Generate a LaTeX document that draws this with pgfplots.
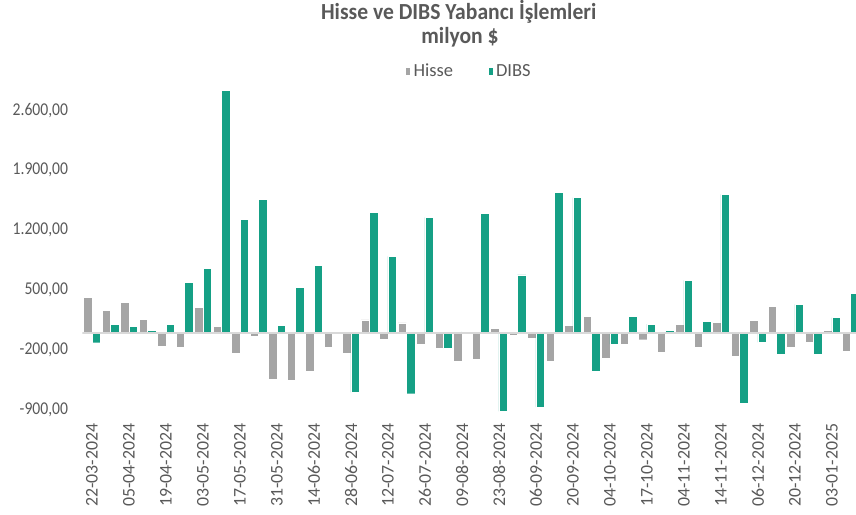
\documentclass[border=0pt]{standalone}
\usepackage{pgfplots}
\pgfplotsset{compat=1.18}
\usepackage{fontspec}
\setmainfont{Carlito}
\newfontfamily\tickfont{Carlito}[FakeStretch=0.87]
\newfontfamily\titlefont{Carlito}[FakeStretch=0.94]
\definecolor{txt}{HTML}{595959}
\definecolor{hisse}{HTML}{A5A5A5}
\definecolor{dibs}{HTML}{15A085}
\definecolor{zeroline}{HTML}{D9D9D9}
\begin{document}
\begin{tikzpicture}
\begin{axis}[
  at={(0,0)}, anchor=south west,
  scale only axis,
  width=773.6bp, height=323.2bp,
  xmin=-0.52, xmax=41.3,
  ymin=-920, ymax=2850,
  enlargelimits=false,
  axis line style={draw=none},
  major tick length=0pt,
  xtick={0,2,...,40},
  xticklabels={22-03-2024,05-04-2024,19-04-2024,03-05-2024,17-05-2024,31-05-2024,14-06-2024,28-06-2024,12-07-2024,26-07-2024,09-08-2024,23-08-2024,06-09-2024,20-09-2024,04-10-2024,17-10-2024,04-11-2024,14-11-2024,06-12-2024,20-12-2024,03-01-2025},
  xticklabel style={rotate=90, anchor=east, inner sep=0pt, text=txt, font=\fontsize{17.8bp}{18bp}\selectfont},
  xticklabel shift=11.4bp,
  ytick={-900,-200,500,1200,1900,2600},
  /pgf/number format/assume math mode=true,
  yticklabel={\pgfmathprintnumber[fixed, fixed zerofill, precision=2, use comma, 1000 sep={.}]{\tick}},
  yticklabel style={anchor=east, inner sep=0pt, text=txt, font=\tickfont\fontsize{18bp}{18bp}\selectfont},
  yticklabel shift=14.1bp,
  legend columns=2,
  legend style={at={(0.4994,1.0548)}, anchor=center, draw=none, fill=none,
    font=\fontsize{18.5bp}{19bp}\selectfont, text=txt,
    nodes={inner sep=1.5bp},
    /tikz/every odd column/.append style={column sep=1.5bp},
    /tikz/every even column/.append style={column sep=33bp}},
  legend image code/.code={\fill[#1] (0bp,-4.2bp) rectangle (5bp,4.2bp);},
]
\addplot[ybar, bar width=0.45, bar shift=-0.225, fill=hisse, draw=white, line width=0.4bp]
coordinates {(0,416) (1,264) (2,354) (3,159) (4,-152) (5,-163) (6,303) (7,74) (8,-237) (9,-39) (10,-537) (11,-548) (12,-443) (13,-163) (14,-237) (15,152) (16,-70) (17,117) (18,-132) (19,-175) (20,-327) (21,-307) (22,58) (23,-31) (24,-58) (25,-327) (26,86) (27,198) (28,-296) (29,-132) (30,-78) (31,-226) (32,105) (33,-171) (34,124) (35,-276) (36,148) (37,315) (38,-171) (39,-109) (40,35) (41,-214)};
\addlegendentry{Hisse}
\addplot[ybar, bar width=0.45, bar shift=0.225, fill=dibs, draw=white, line width=0.4bp]
coordinates {(0,-113) (1,105) (2,74) (3,35) (4,105) (5,595) (6,758) (7,2827) (8,1326) (9,1563) (10,86) (11,529) (12,789) (13,23) (14,-692) (15,1408) (16,894) (17,-708) (18,1349) (19,-175) (20,16) (21,1400) (22,-914) (23,677) (24,-863) (25,1637) (26,1579) (27,-451) (28,-128) (29,191) (30,105) (31,35) (32,614) (33,136) (34,1618) (35,-821) (36,-109) (37,-249) (38,334) (39,-249) (40,179) (41,459)};
\addlegendentry{DIBS}
\draw[zeroline, line width=1.2bp] (axis cs:-0.52,0) -- (axis cs:41.3,0);
\end{axis}
\node[anchor=base, text=txt, font=\titlefont\bfseries\fontsize{23bp}{24bp}\selectfont] at (376.3bp,391.9bp) {Hisse ve DIBS Yabancı İşlemleri};
\node[anchor=base, text=txt, font=\titlefont\bfseries\fontsize{23bp}{24bp}\selectfont] at (377.6bp,368.2bp) {milyon \$};
\pgfresetboundingbox
\path[use as bounding box] (-82.4bp,-103.1bp) rectangle (773.6bp,411.9bp);
\end{tikzpicture}
\end{document}
